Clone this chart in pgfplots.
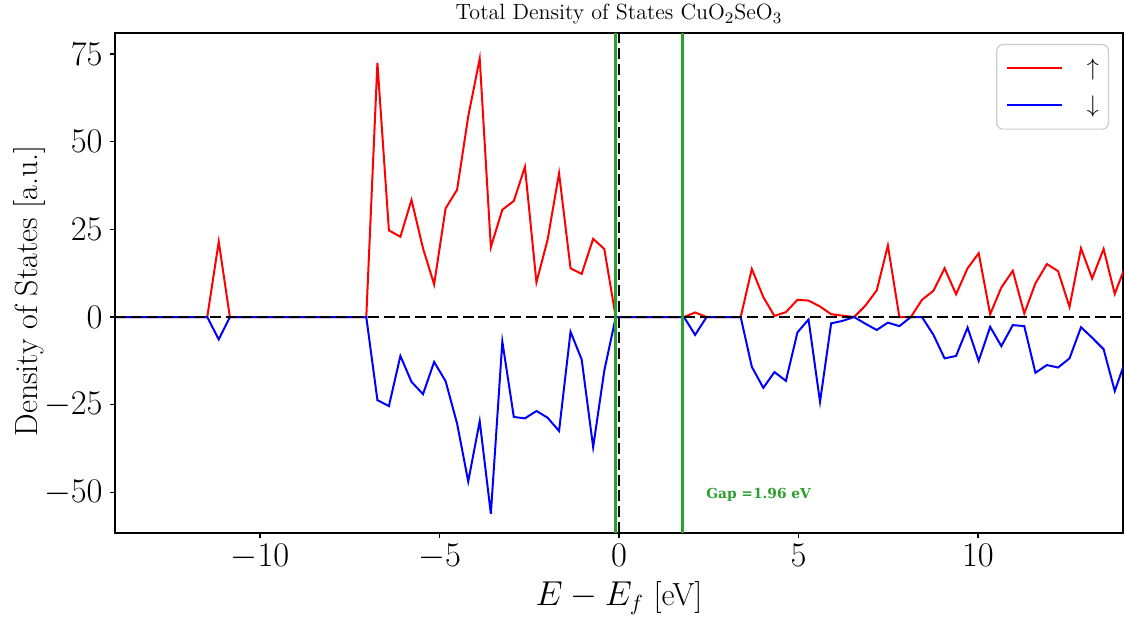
\documentclass[border=0pt]{standalone}
\usepackage{fontspec}
\usepackage{pgfplots}
\pgfplotsset{compat=1.18}
\newfontfamily\gapfont{DejaVu Serif}
\definecolor{mplgreen}{RGB}{44,160,44}
\pgfplotstableread{
x y
-14.31 0
-11.47 0
-11.15 21.5
-10.84 0
-7.04 0
-6.73 72.5
-6.41 24.7
-6.09 22.9
-5.78 33.4
-5.46 19.6
-5.15 9.3
-4.83 31.0
-4.51 36.3
-4.20 57.2
-3.88 73.7
-3.57 19.9
-3.25 30.6
-2.93 33.1
-2.62 42.8
-2.30 9.9
-1.99 22.0
-1.67 41.0
-1.35 13.9
-1.04 12.3
-0.72 22.3
-0.41 19.4
-0.09 0
1.81 0
2.12 1.3
2.44 0
3.39 0
3.70 13.7
4.02 5.7
4.33 0.3
4.65 1.4
4.97 4.9
5.28 4.7
5.60 3.0
5.91 0.8
6.23 0.4
6.55 0
6.86 3.2
7.18 7.6
7.49 20.4
7.81 0
8.13 0
8.44 4.9
8.76 7.5
9.07 13.9
9.39 6.5
9.71 13.9
10.02 18.2
10.34 0.8
10.65 8.4
10.97 13.2
11.29 1.0
11.60 9.6
11.92 15.1
12.23 13.1
12.55 2.9
12.87 19.6
13.18 11.0
13.50 19.4
13.81 6.6
14.13 15.2
}\upspin
\pgfplotstableread{
x y
-14.31 0
-11.47 0
-11.15 -6.4
-10.84 0
-7.04 0
-6.73 -23.7
-6.41 -25.4
-6.09 -11.1
-5.78 -18.5
-5.46 -22.0
-5.15 -12.8
-4.83 -18.3
-4.51 -30.4
-4.20 -46.9
-3.88 -29.7
-3.57 -56.1
-3.25 -7.0
-2.93 -28.5
-2.62 -28.9
-2.30 -26.8
-1.99 -28.7
-1.67 -32.5
-1.35 -4.2
-1.04 -12.1
-0.72 -37.1
-0.41 -15.3
-0.09 0
1.81 0
2.12 -5.1
2.44 0
3.39 0
3.70 -14.2
4.02 -20.2
4.33 -15.7
4.65 -18.2
4.97 -4.4
5.28 -0.7
5.60 -24.2
5.91 -1.8
6.23 -1.1
6.55 0
6.86 -1.9
7.18 -3.7
7.49 -1.6
7.81 -2.6
8.13 0
8.44 0
8.76 -5.1
9.07 -11.8
9.39 -11.1
9.71 -3.0
10.02 -12.5
10.34 -2.8
10.65 -8.3
10.97 -2.3
11.29 -2.6
11.60 -15.9
11.92 -13.7
12.23 -14.4
12.55 -11.8
12.87 -2.9
13.18 -5.9
13.50 -9.2
13.81 -21.1
14.13 -11.8
}\downspin
\begin{document}
\begin{tikzpicture}
\begin{axis}[name=ax, scale only axis, width=504pt, height=250pt,
  xmin=-14.04, xmax=14.04, ymin=-61.6, ymax=81,
  xtick={-10,-5,0,5,10}, ytick={-50,-25,0,25,50,75},
  tick align=outside, major tick length=2.5pt, xtick pos=bottom, ytick pos=left,
  tick style={black, line width=0.6pt},
  axis line style={line width=0.75pt},
  ticklabel style={font=\fontsize{16}{19}\selectfont},
  xticklabel style={anchor=base, inner sep=0pt, yshift=-14.3pt},
  yticklabel style={anchor=east, inner sep=0pt, xshift=-3.5pt},
  label style={font=\fontsize{16}{19}\selectfont},
  xlabel={$E - E_f$ [eV]},
  xlabel style={at={(axis description cs:0.5,-0.144)}, anchor=base, inner sep=0pt},
  ylabel={Density of States [a.u.]},
  ylabel style={at={(axis description cs:-0.0764,0.484)}, anchor=base, inner sep=0pt},
  every axis title shift=0pt,
  title={Total Density of States CuO$_2$SeO$_3$},
  title style={at={(axis description cs:0.5,1.026)}, anchor=base, inner sep=0pt, font=\fontsize{11}{13}\selectfont},
  legend style={at={(axis description cs:1,1)}, anchor=north east, xshift=-7pt, yshift=-5.5pt,
    font=\fontsize{13.2}{15}\selectfont, draw=black!20, line width=0.6pt, fill=white, rounded corners=3pt,
    inner xsep=4.75pt, inner ysep=7pt, row sep=8.6pt, nodes={inner sep=0pt},
    /tikz/every odd column/.append style={column sep=11.8pt}},
  legend image code/.code={\draw[#1, line width=1pt] (0pt,0pt) -- (27.5pt,0pt);},
]
\addplot[red, line width=1pt] table {\upspin};
\addlegendentry{$\uparrow$}
\addplot[blue, line width=1pt] table {\downspin};
\addlegendentry{$\downarrow$}
\addplot[black, line width=1.4pt, dash pattern=on 5.5pt off 2.4pt, forget plot] coordinates {(-14.04,0) (14.04,0)};
\addplot[black, line width=1.4pt, dash pattern=on 5.5pt off 2.4pt, forget plot] coordinates {(0,-61.6) (0,81)};
\addplot[mplgreen, line width=1.2pt, forget plot] coordinates {(-0.1,-61.6) (-0.1,81)};
\addplot[mplgreen, line width=1.2pt, forget plot] coordinates {(1.77,-61.6) (1.77,81)};
\node[anchor=base west, text=mplgreen, font=\gapfont\bfseries\fontsize{6.9}{8}\selectfont, inner sep=0pt] at (axis cs:2.42,-51.8) {Gap =1.96 eV};
\end{axis}
\pgfresetboundingbox
\path ([shift={(-57.5pt,-42pt)}]ax.south west) rectangle ([shift={(1pt,16.5pt)}]ax.north east);
\end{tikzpicture}
\end{document}
